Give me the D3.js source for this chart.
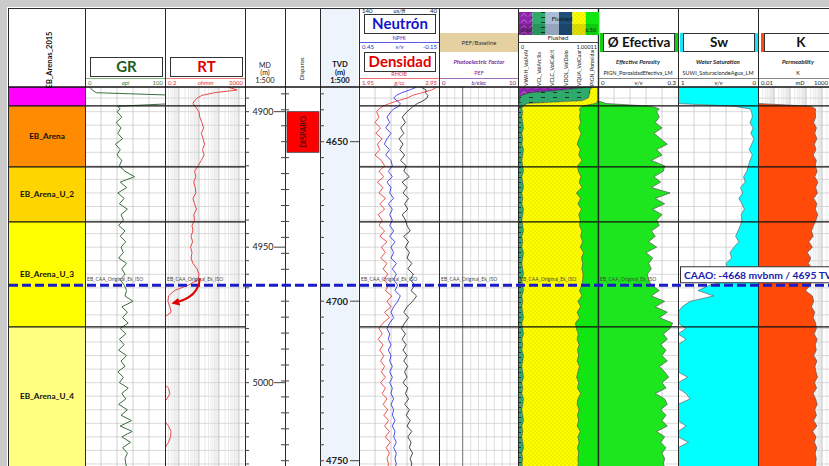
<!DOCTYPE html>
<html><head><meta charset="utf-8">
<script src="https://cdn.jsdelivr.net/npm/d3@7"></script>
<style>
html,body{margin:0;padding:0;background:#fff;}
svg{display:block;font-family:Lato,"Open Sans",sans-serif;}
</style></head><body>
<svg id="chart" width="829" height="466"></svg>
<script>
// ---- log samples (measured depth, m) ----
const depthMD = [4891,4892,4893,4894,4895,4896,4897,4898,4899,4900,
 4902,4904,4906,4908,4910,4912,4914,4916,4918,4920,
 4922,4924,4926,4928,4930,4932,4934,4936,4938,4940,
 4942,4944,4946,4948,4950,4952,4954,4956,4958,4960,
 4962,4964,4966,4968,4970,4972,4974,4976,4978,4980,
 4982,4984,4986,4988,4990,4992,4994,4996,4998,5000,
 5002,5004,5006,5008,5010,5012,5014,5016,5018,5020,
 5022,5024,5026,5028,5030,5031];
const gr = [6,9,14,118,125,122,112,41,44,40,
 46,39,45,41,47,38,44,40,46,43,
 50,62,44,52,41,49,43,53,45,48,
 42,50,44,51,45,48,42,52,46,50,
 44,49,52,50,60,46,53,47,54,44,
 51,43,49,42,52,45,50,41,48,43,
 54,46,51,42,53,45,58,44,59,46,
 57,47,53,50,51,52];
const rt = [300,800,60,14,8,6,5,6.5,8,10,
 11,14,17,13,16,19,15,18,13,9,
 6,7,5.5,6.5,7,5,6,7.5,5.5,6,
 4.5,5,4,4.8,3.8,4.5,4,5,8,10,
 9,3,0.6,0.3,0.28,0.35,0.4,0.18,0.15,0.12,
 0.15,0.12,0.15,0.13,0.15,0.12,0.2,0.15,0.12,0.15,
 0.3,0.35,0.25,0.15,0.12,0.15,0.18,0.3,0.4,0.38,
 0.3,0.2,0.15,0.12,0.15,0.14];
const rhob = [2.92,2.86,2.74,2.62,2.55,2.43,2.33,2.25,2.2,2.17,
 2.2,2.15,2.22,2.16,2.24,2.18,2.21,2.15,2.23,2.27,
 2.2,2.26,2.18,2.25,2.2,2.28,2.21,2.27,2.19,2.24,
 2.2,2.27,2.21,2.3,2.23,2.28,2.22,2.3,2.25,2.31,
 2.26,2.32,2.28,2.36,2.3,2.35,2.27,2.33,2.25,2.2,
 2.24,2.19,2.25,2.21,2.26,2.22,2.27,2.23,2.28,2.22,
 2.28,2.24,2.3,2.25,2.31,2.26,2.32,2.27,2.33,2.28,
 2.34,2.29,2.33,2.3,2.32,2.31];
const nphi = [0.02,0.07,0.13,0.17,0.19,0.165,0.14,0.15,0.19,0.21,
 0.24,0.22,0.25,0.21,0.24,0.26,0.22,0.25,0.21,0.2,
 0.23,0.2,0.24,0.21,0.22,0.19,0.23,0.2,0.22,0.2,
 0.22,0.19,0.22,0.18,0.21,0.19,0.21,0.17,0.2,0.17,
 0.19,0.16,0.18,0.14,0.16,0.19,0.21,0.19,0.22,0.24,
 0.22,0.23,0.21,0.23,0.21,0.22,0.2,0.22,0.2,0.22,
 0.2,0.21,0.19,0.21,0.19,0.2,0.18,0.2,0.18,0.19,
 0.17,0.19,0.17,0.18,0.17,0.18];
const dt = [62,56,57,54,55,60,67,72,76,80,
 86,82,88,84,90,85,89,83,88,81,
 84,77,86,80,85,78,83,79,86,82,
 80,76,84,78,82,77,80,74,79,72,
 76,70,75,68,73,80,84,78,83,87,
 82,86,81,85,80,84,79,83,80,85,
 79,82,78,83,77,81,76,80,74,79,
 75,77,73,76,74,75];
const vwah = [0.85,0.55,0.15,0.04,0.02,0.02,0.01,0,0,0,
 0,0,0,0,0,0,0,0,0,0,
 0,0,0,0,0,0,0,0,0,0,
 0,0,0,0,0,0,0,0,0,0,
 0,0,0,0,0,0,0,0,0,0,
 0,0,0,0,0,0,0,0,0,0,
 0,0,0,0,0,0,0,0,0,0,
 0,0,0,0,0,0];
const vcl = [0.08,0.35,0.75,0.85,0.86,0.78,0.11,0.06,0.05,0.06,
 0.05,0.06,0.07,0.05,0.06,0.05,0.07,0.06,0.05,0.06,
 0.07,0.05,0.06,0.07,0.05,0.06,0.05,0.07,0.06,0.05,
 0.06,0.07,0.05,0.06,0.05,0.07,0.06,0.05,0.06,0.07,
 0.05,0.06,0.07,0.05,0.06,0.05,0.06,0.07,0.05,0.06,
 0.07,0.05,0.06,0.05,0.07,0.06,0.05,0.06,0.07,0.05,
 0.06,0.05,0.07,0.06,0.05,0.06,0.07,0.05,0.06,0.05,
 0.06,0.07,0.05,0.06,0.05,0.06];
const phie = [0,0,0,0,0,0,0.03,0.2,0.23,0.22,
 0.23,0.215,0.24,0.21,0.235,0.26,0.22,0.24,0.2,0.25,
 0.245,0.21,0.235,0.2,0.27,0.215,0.25,0.205,0.24,0.22,
 0.23,0.2,0.215,0.19,0.22,0.18,0.205,0.19,0.2,0.185,
 0.19,0.2,0.23,0.2,0.25,0.215,0.26,0.23,0.28,0.27,
 0.245,0.26,0.235,0.255,0.24,0.26,0.23,0.25,0.265,0.24,
 0.255,0.215,0.25,0.26,0.235,0.255,0.24,0.26,0.22,0.25,
 0.235,0.255,0.24,0.25,0.245,0.25];
const sw = [1,1,1,1,1,1,1,0.3,0.1,0.08,
 0.07,0.1,0.06,0.09,0.05,0.08,0.11,0.07,0.1,0.12,
 0.14,0.18,0.16,0.22,0.19,0.24,0.2,0.17,0.21,0.2,
 0.22,0.25,0.28,0.24,0.3,0.35,0.33,0.4,0.38,0.3,
 0.32,0.6,0.75,0.55,0.85,0.95,1,1,1,0.9,
 1,0.9,1,1,1,1,1,1,0.88,1,
 1,0.9,0.85,1,1,1,1,0.9,1,1,
 0.87,1,1,1,1,1];
const perm = [0.01,0.01,0.01,0.01,0.01,0.01,0.01,20,40,38,
 40,30,45,35,48,33,42,28,44,38,
 50,35,55,40,52,30,48,38,54,42,
 30,22,28,15,25,12,20,14,24,18,
 22,20,9,25,30,22,35,28,40,45,
 32,50,38,44,30,48,36,42,52,34,
 46,28,40,50,35,45,30,48,26,42,
 33,47,37,44,40,42];

// ---- zones, perforations, contact ----
const zoneNames = ["", "EB_Arena", "EB_Arena_U_2", "EB_Arena_U_3", "EB_Arena_U_4"];
const zoneTops = [4890.9, 4897.9, 4920.4, 4940.7, 4979.45];
const zoneBase = 5031;
const zoneColors = ["#FF00FF", "#FF8C00", "#FFD500", "#FFFF00", "#FFFF80"];
const perfTops = [4900], perfBases = [4915], perfLabels = ["DISPARO"];
const mdMajor = [4900, 4950, 5000];
const tvdMajor = [4650, 4700, 4750];
const pefBaseline = 3;
const caaoTVD = 4695;
const caaoText = "CAAO: -4668 mvbnm / 4695 TVD";
const horizonName = "EB_CAA_Original_Ek_ISO";

const series = [gr, rt, rhob, nphi, dt, vwah, vcl, phie, sw, perm];
series.forEach((a, k) => { if (a.length !== depthMD.length) throw new Error("length " + k + ": " + a.length); });
const rows = depthMD.map((md, i) => ({md, gr: gr[i], rt: rt[i], rhob: rhob[i], nphi: nphi[i], dt: dt[i],
  vwah: vwah[i], vcl: vcl[i], phie: phie[i], sw: sw[i], k: perm[i]}));

// ---- layout ----
const svg = d3.select("#chart");
const dataY0 = 87, dataY1 = 466, headY0 = 8;
const T = {zone:[8,85], gr:[85,165], rt:[165,245], md:[245,285], perf:[285,320], tvd:[320,359],
  nd:[359,439], pef:[439,518], lith:[518,598], phi:[598,678], sw:[678,758], k:[758,838]};

const yMD = d3.scaleLinear().domain([4890.9, 5030.75]).range([dataY0, dataY1]);
const yTVD = d3.scaleLinear().domain([4650, 4750]).range([141.7, 460.7]);
const grX = d3.scaleLinear().domain([0, 100]).range(T.gr);
const rtX = d3.scaleLog().domain([0.2, 2000]).range(T.rt);
const rhoX = d3.scaleLinear().domain([1.95, 2.95]).range(T.nd);
const nX = d3.scaleLinear().domain([0.45, -0.15]).range(T.nd);
const dtX = d3.scaleLinear().domain([140, 40]).range(T.nd);
const pefX = d3.scaleLinear().domain([0, 10]).range(T.pef);
const lithX = d3.scaleLinear().domain([0, 1.00011]).range(T.lith);
const phiX = d3.scaleLinear().domain([0, 0.3]).range(T.phi);
const swX = d3.scaleLinear().domain([1, 0]).range(T.sw);
const kX = d3.scaleLog().domain([0.01, 1000]).range(T.k);

const defs = svg.append("defs");
Object.entries(T).forEach(([key, [a, b]]) => {
  defs.append("clipPath").attr("id", "clip-" + key)
    .append("rect").attr("x", a).attr("y", dataY0).attr("width", b - a).attr("height", dataY1 - dataY0);
});
// fill patterns
const pSand = defs.append("pattern").attr("id", "pSand").attr("width", 4).attr("height", 4).attr("patternUnits", "userSpaceOnUse");
pSand.append("rect").attr("width", 4).attr("height", 4).attr("fill", "#FFFF00");
pSand.append("circle").attr("cx", 1).attr("cy", 1).attr("r", 0.45).attr("fill", "#8a8a00");
pSand.append("circle").attr("cx", 3).attr("cy", 3).attr("r", 0.45).attr("fill", "#8a8a00");
const pShale = defs.append("pattern").attr("id", "pShale").attr("width", 12).attr("height", 5).attr("patternUnits", "userSpaceOnUse");
pShale.append("rect").attr("width", 12).attr("height", 5).attr("fill", "#2EAA6A");
pShale.append("line").attr("x1", 1).attr("x2", 5).attr("y1", 2.5).attr("y2", 2.5).attr("stroke", "#123").attr("stroke-width", 0.9);
const pAnh = defs.append("pattern").attr("id", "pAnh").attr("width", 8).attr("height", 6).attr("patternUnits", "userSpaceOnUse");
pAnh.append("rect").attr("width", 8).attr("height", 6).attr("fill", "#8E24AA");
pAnh.append("path").attr("d", "M1,4.5 L4,1.5 L7,4.5").attr("fill", "none").attr("stroke", "#c9a0dc").attr("stroke-width", 0.7);
defs.append("marker").attr("id", "arrowHead").attr("viewBox", "0 0 10 10").attr("refX", 6).attr("refY", 5)
  .attr("markerWidth", 4).attr("markerHeight", 4).attr("orient", "auto")
  .append("path").attr("d", "M0,0 L10,5 L0,10 z").attr("fill", "#E00000");

// ---- frame ----
svg.append("rect").attr("width", 829).attr("height", 466).attr("fill", "#fff");
svg.append("rect").attr("x", 0).attr("y", 0).attr("width", 829).attr("height", 7).attr("fill", "#cbcbcb");
svg.append("rect").attr("x", 0).attr("y", 0).attr("width", 7).attr("height", 466).attr("fill", "#cbcbcb");
svg.append("rect").attr("x", 321).attr("y", headY0).attr("width", 37).attr("height", dataY1 - headY0).attr("fill", "#EEF4FB");

// ---- zones ----
const gZone = svg.append("g").attr("clip-path", "url(#clip-zone)");
zoneTops.forEach((t, i) => {
  const y0 = yMD(t), y1 = yMD(i < zoneTops.length - 1 ? zoneTops[i + 1] : zoneBase);
  gZone.append("rect").attr("x", T.zone[0]).attr("y", y0).attr("width", T.zone[1] - T.zone[0]).attr("height", y1 - y0).attr("fill", zoneColors[i]);
  if (zoneNames[i]) {
    svg.append("text").attr("x", (T.zone[0] + T.zone[1]) / 2 + 0.5).attr("y", (y0 + Math.min(y1, dataY1)) / 2 + 3)
      .attr("text-anchor", "middle").attr("font-size", 8.2).attr("font-weight", 700).attr("fill", "#111").text(zoneNames[i]);
  }
});

// ---- grids ----
const gridMD = d3.range(4895, 5031, 5);
const gGrid = svg.append("g");
function hGrid(key) {
  const [a, b] = T[key];
  gGrid.append("g").selectAll("line").data(gridMD).join("line")
    .attr("x1", a).attr("x2", b).attr("y1", d => yMD(d)).attr("y2", d => yMD(d))
    .attr("stroke", "#cfcfcf").attr("stroke-width", 0.8);
}
function vGrid(xs, color, w) {
  gGrid.append("g").selectAll("line").data(xs).join("line")
    .attr("x1", d => d).attr("x2", d => d).attr("y1", dataY0).attr("y2", dataY1)
    .attr("stroke", color).attr("stroke-width", w || 0.8);
}
function logVals(lo, hi) {
  const out = [];
  for (let e = -3; e <= 4; e++) for (let m = 1; m <= 9; m++) {
    const v = m * Math.pow(10, e);
    if (v > lo * 1.0001 && v < hi * 0.9999) out.push({v, major: m === 1});
  }
  return out;
}
["gr", "rt", "nd", "pef", "lith", "phi", "sw", "k"].forEach(hGrid);
vGrid([20, 40, 60, 80].map(grX), "#c4c4c4");
const rtLog = logVals(0.2, 2000);
vGrid(rtLog.filter(d => !d.major).map(d => rtX(d.v)), "#dadada", 0.6);
vGrid(rtLog.filter(d => d.major).map(d => rtX(d.v)), "#b8b8b8", 0.8);
vGrid([2.15, 2.35, 2.55, 2.75].map(rhoX), "#c4c4c4");
vGrid(d3.range(1, 10).map(pefX), "#d2d2d2", 0.7);
vGrid([pefX(pefBaseline)], "#7a7a7a", 1);
vGrid([0.06, 0.12, 0.18, 0.24].map(phiX), "#c8c8c8");
vGrid([0.8, 0.6, 0.4, 0.2].map(swX), "#c8c8c8");
const kLog = logVals(0.01, 1000);
vGrid(kLog.filter(d => !d.major).map(d => kX(d.v)), "#dadada", 0.6);
vGrid(kLog.filter(d => d.major).map(d => kX(d.v)), "#b8b8b8", 0.8);

// ---- lithology stack ----
const gLith = svg.append("g").attr("clip-path", "url(#clip-lith)");
const yOf = d => yMD(d.md);
const areaV = (f0, f1, sx) => d3.area().y(yOf).x0(d => sx(f0(d))).x1(d => sx(f1(d)));
gLith.append("path").datum(rows).attr("fill", "url(#pAnh)").attr("stroke", "#333").attr("stroke-width", 0.5)
  .attr("d", areaV(d => 0, d => d.vwah, lithX));
gLith.append("path").datum(rows).attr("fill", "url(#pShale)").attr("stroke", "#233").attr("stroke-width", 0.5)
  .attr("d", areaV(d => d.vwah, d => d.vwah + d.vcl, lithX));
gLith.append("path").datum(rows).attr("fill", "url(#pSand)").attr("stroke", "#444").attr("stroke-width", 0.4)
  .attr("d", areaV(d => d.vwah + d.vcl, d => 1 - d.phie, lithX));
gLith.append("path").datum(rows).attr("fill", "#12E612").attr("stroke", "#444").attr("stroke-width", 0.5)
  .attr("d", areaV(d => 1 - d.phie, d => 1, lithX));

// ---- porosity, saturation, permeability fills ----
const gPhi = svg.append("g").attr("clip-path", "url(#clip-phi)");
gPhi.append("path").datum(rows).attr("fill", "#1EE61E").attr("d", areaV(d => 0, d => d.phie, phiX));
gPhi.append("path").datum(rows).attr("fill", "none").attr("stroke", "#555").attr("stroke-width", 0.7)
  .attr("d", d3.line().y(yOf).x(d => phiX(d.phie)));
const gSw = svg.append("g").attr("clip-path", "url(#clip-sw)");
gSw.append("path").datum(rows).attr("fill", "#00FFFF").attr("d", areaV(d => d.sw, d => 0, swX));
gSw.append("path").datum(rows).attr("fill", "none").attr("stroke", "#666").attr("stroke-width", 0.7)
  .attr("d", d3.line().y(yOf).x(d => swX(d.sw)));
const gK = svg.append("g").attr("clip-path", "url(#clip-k)");
gK.append("path").datum(rows).attr("fill", "#FF4A0A").attr("d", areaV(d => 0.01, d => d.k, kX));
gK.append("path").datum(rows).attr("fill", "none").attr("stroke", "#555").attr("stroke-width", 0.7)
  .attr("d", d3.line().y(yOf).x(d => kX(d.k)));

// ---- curves ----
function curve(key, field, sx, color, w) {
  svg.append("g").attr("clip-path", "url(#clip-" + key + ")").append("path").datum(rows)
    .attr("fill", "none").attr("stroke", color).attr("stroke-width", w).attr("stroke-linejoin", "round")
    .attr("d", d3.line().y(yOf).x(d => sx(d[field])));
}
curve("gr", "gr", grX, "#3E6E3E", 1);
curve("rt", "rt", rtX, "#E84848", 1);
curve("nd", "rhob", rhoX, "#EE4040", 0.9);
curve("nd", "nphi", nX, "#3A3AE8", 0.9);
curve("nd", "dt", dtX, "#333", 0.9);

// ---- zone boundaries ----
zoneTops.slice(1).forEach(t => {
  [[T.zone[0], T.rt[1]], [T.nd[0], 829]].forEach(([a, b]) => {
    svg.append("line").attr("x1", a).attr("x2", b).attr("y1", yMD(t)).attr("y2", yMD(t))
      .attr("stroke", "#111").attr("stroke-width", 1.3);
  });
});

// ---- track borders ----
[8, 85, 165, 245, 285, 320, 359, 439, 518, 598, 678, 758].forEach(x => {
  svg.append("line").attr("x1", x + 0.5).attr("x2", x + 0.5).attr("y1", headY0).attr("y2", dataY1)
    .attr("stroke", "#2a2a2a").attr("stroke-width", x === 598 ? 1.4 : 1);
});
svg.append("line").attr("x1", 8).attr("x2", 829).attr("y1", headY0 + 0.5).attr("y2", headY0 + 0.5).attr("stroke", "#2a2a2a");
svg.append("line").attr("x1", 8).attr("x2", 829).attr("y1", dataY0).attr("y2", dataY0).attr("stroke", "#111").attr("stroke-width", 1.5);

// ---- depth axes ----
const gAx = svg.append("g");
gAx.selectAll(".mdm").data(gridMD).join("line").attr("x1", 245).attr("x2", 249)
  .attr("y1", d => yMD(d)).attr("y2", d => yMD(d)).attr("stroke", "#444");
gAx.selectAll(".mdM").data(mdMajor).join("line").attr("x1", 274).attr("x2", 285)
  .attr("y1", d => yMD(d)).attr("y2", d => yMD(d)).attr("stroke", "#444");
gAx.selectAll(".mdt").data(mdMajor).join("text").attr("x", 263).attr("y", d => yMD(d) + 3.2)
  .attr("text-anchor", "middle").attr("font-size", 9).attr("fill", "#222").text(d => d);
const tvdMinor = d3.range(4635, 4752, 5).filter(v => yTVD(v) > dataY0 && yTVD(v) < dataY1);
[[281, 289], [320, 324]].forEach(([a, b]) => {
  gAx.append("g").selectAll("line").data(tvdMinor).join("line").attr("x1", a).attr("x2", b)
    .attr("y1", d => yTVD(d)).attr("y2", d => yTVD(d)).attr("stroke", "#444");
});
gAx.selectAll(".tvM").data(tvdMajor).join("line").attr("x1", 350).attr("x2", 359)
  .attr("y1", d => yTVD(d)).attr("y2", d => yTVD(d)).attr("stroke", "#444");
gAx.selectAll(".tvt").data(tvdMajor).join("text").attr("x", 337).attr("y", d => yTVD(d) + 3.4)
  .attr("text-anchor", "middle").attr("font-size", 9.5).attr("font-weight", 700).attr("fill", "#222").text(d => d);

// ---- perforations ----
perfTops.forEach((t, i) => {
  const y0 = yMD(t), y1 = yMD(perfBases[i]);
  svg.append("rect").attr("x", 287).attr("y", y0).attr("width", 32).attr("height", y1 - y0)
    .attr("fill", "#FF0000").attr("stroke", "#444").attr("stroke-width", 0.8);
  svg.append("text").attr("transform", `translate(${305.5},${(y0 + y1) / 2}) rotate(-90)`)
    .attr("text-anchor", "middle").attr("font-size", 7.5).attr("fill", "#111").text(perfLabels[i]);
});

// ---- oil-water contact ----
const caaoY = yTVD(caaoTVD);
[T.gr, T.rt, T.nd, T.pef, T.lith, T.phi].forEach(([a]) => {
  svg.append("text").attr("x", a + 2).attr("y", caaoY - 4.5).attr("font-size", 5).attr("fill", "#444").text(horizonName);
});
svg.append("line").attr("x1", 9).attr("x2", 829).attr("y1", caaoY).attr("y2", caaoY)
  .attr("stroke", "#1B1BC8").attr("stroke-width", 3).attr("stroke-dasharray", "9,4");
svg.append("rect").attr("x", 680.5).attr("y", caaoY - 18.5).attr("width", 160).attr("height", 16)
  .attr("fill", "#fff").attr("stroke", "#333").attr("stroke-width", 1);
svg.append("text").attr("x", 684).attr("y", caaoY - 6.5).attr("font-size", 10.3).attr("font-weight", 700)
  .attr("fill", "#1A1AB0").text(caaoText);
// annotation arrow towards the resistivity drop
{
  const sx = rtX(11), sy = yMD(4961.5), cx = rtX(9.5), cy = yMD(4968.5), ex = rtX(0.6), ey = yMD(4970.5);
  svg.append("path").attr("d", `M${sx},${sy} Q${cx},${cy} ${ex},${ey}`).attr("fill", "none")
    .attr("stroke", "#E00000").attr("stroke-width", 2).attr("marker-end", "url(#arrowHead)");
}

// ---- headers ----
const H = svg.append("g");
function txt(x, y, s, size, color, opts) {
  opts = opts || {};
  const t = H.append("text").attr("x", x).attr("y", y).attr("font-size", size).attr("fill", color || "#222")
    .attr("text-anchor", opts.anchor || "middle").text(s);
  if (opts.bold) t.attr("font-weight", 700);
  if (opts.italic) t.attr("font-style", "italic");
  return t;
}
function titleBox(a, b, y0, y1, label, color, size, bar) {
  if (bar) {
    H.append("rect").attr("x", a - 3).attr("y", y0).attr("width", b - a + 6).attr("height", y1 - y0).attr("fill", bar);
  }
  H.append("rect").attr("x", a + 0.5).attr("y", y0 + 0.5).attr("width", b - a - 1).attr("height", y1 - y0 - 1)
    .attr("fill", "#fff").attr("stroke", "#333").attr("stroke-width", 1);
  txt((a + b) / 2, (y0 + y1) / 2 + size * 0.36, label, size, color, {bold: true});
}
function scaleRow(a, b, y, l, u, r, color) {
  txt(a + 2, y, l, 6, color, {anchor: "start"});
  txt((a + b) / 2, y, u, 6, color, {italic: true});
  txt(b - 2, y, r, 6, color, {anchor: "end"});
}
function rule(a, b, y, color) {
  H.append("line").attr("x1", a).attr("x2", b).attr("y1", y).attr("y2", y).attr("stroke", color).attr("stroke-width", 1);
}
// zone column
H.append("text").attr("transform", "translate(52,60) rotate(-90)").attr("text-anchor", "middle")
  .attr("font-size", 7.5).attr("font-weight", 700).attr("fill", "#111").text("EB_Arenas_2015");
// GR / RT
titleBox(90, 163, 57, 77, "GR", "#1E5A1E", 15);
rule(86, 165, 78.5, "#7DB87D");
scaleRow(86, 165, 84.5, "0", "api", "100", "#3D7F3D");
titleBox(170, 243, 57, 77, "RT", "#E00000", 15);
rule(166, 245, 78.5, "#F08080");
scaleRow(166, 245, 84.5, "0.2", "ohmm", "2000", "#E03030");
// MD / perforations / TVD
txt(265, 67.5, "MD", 7, "#222"); txt(265, 74.5, "(m)", 7, "#222"); txt(265, 82.5, "1:500", 7.5, "#222");
H.append("text").attr("transform", "translate(304,69) rotate(-90)").attr("text-anchor", "middle")
  .attr("font-size", 6).attr("fill", "#222").text("Disparos");
txt(340, 66.5, "TVD", 7.5, "#111", {bold: true}); txt(340, 74.5, "(m)", 7.5, "#111", {bold: true});
txt(340, 83, "1:500", 7.5, "#111", {bold: true});
// neutron / density / sonic
scaleRow(360, 439, 13, "140", "us/ft", "40", "#222");
titleBox(364, 436, 14, 34, "Neutrón", "#1414C8", 15);
txt(399, 39.5, "NPHI", 5.5, "#3333CC");
rule(360, 439, 42.5, "#5A5AE6");
scaleRow(360, 439, 48.5, "0.45", "v/v", "-0.15", "#2828C0");
titleBox(364, 436, 52, 72, "Densidad", "#E00000", 15);
txt(399, 76, "RHOB", 5.5, "#E03030");
rule(360, 439, 78.5, "#F07070");
scaleRow(360, 439, 84.5, "1.95", "g/cc", "2.95", "#E03030");
// PEF
H.append("rect").attr("x", 440).attr("y", 33).attr("width", 78).attr("height", 19).attr("fill", "#E5D0A2");
txt(479, 45, "PEF/Baseline", 6, "#333");
txt(479, 64, "Photoelectric Factor", 6, "#7A2A8E", {bold: true, italic: true});
txt(479, 75, "PEF", 5.5, "#7A2A8E");
rule(440, 518, 78.5, "#A070B8");
scaleRow(440, 518, 84.5, "0", "b/elec", "10", "#6A2A7E");
// lithology legend
const lithLegend = [
  {fill: "url(#pAnh)", label: "VWAH_VolArAh"},
  {fill: "url(#pShale)", label: "VCL_VolArcilla"},
  {fill: "#A9BED6", label: "VCLC_VolCalcita"},
  {fill: "#1F4E79", label: "VDOL_VolDolo"},
  {fill: "url(#pSand)", label: "VQUA_VolCuarzo"},
  {fill: "#12E612", label: "PIGN_PorosidadE"}];
const cw = 80 / 6;
lithLegend.forEach((c, i) => {
  H.append("rect").attr("x", 519 + i * cw).attr("y", 12).attr("width", cw).attr("height", 23).attr("fill", c.fill);
});
H.append("rect").attr("x", 519).attr("y", 24).attr("width", 79).attr("height", 11).attr("fill", "#000").attr("opacity", 0.12);
txt(562, 20.5, "Flushed", 6, "#111");
txt(521, 31.5, "0.50", 5.5, "#222", {anchor: "start"});
txt(596, 31.5, "6.50", 5.5, "#222", {anchor: "end"});
txt(558, 40, "Flushed", 6, "#222");
rule(518, 598, 42.5, "#444");
txt(521, 48.5, "0", 5.5, "#222", {anchor: "start"});
txt(597, 48.5, "1.00011", 5.5, "#222", {anchor: "end"});
defs.append("clipPath").attr("id", "clip-lithhead").append("rect").attr("x", 518).attr("y", 50).attr("width", 80).attr("height", 37);
const lh = H.append("g").attr("clip-path", "url(#clip-lithhead)");
lithLegend.forEach((c, i) => {
  lh.append("text").attr("transform", `translate(${519 + i * cw + cw / 2 + 2},86) rotate(-90)`)
    .attr("font-size", 5.3).attr("fill", "#222").text(c.label);
});
// porosity / saturation / permeability
titleBox(603, 675, 33, 52, "Ø Efectiva", "#111", 13.5, "#10D010");
txt(638, 64, "Effective Porosity", 6, "#222", {bold: true, italic: true});
txt(638, 75, "PIGN_PorosidadEfectiva_LM", 5.5, "#222");
rule(599, 678, 78.5, "#888");
scaleRow(599, 678, 84.5, "0", "v/v", "0.3", "#222");
titleBox(683, 755, 33, 52, "Sw", "#111", 13.5, "#19E3F5");
txt(718, 64, "Water Saturation", 6, "#222", {bold: true, italic: true});
txt(718, 75, "SUWI_SaturaciondeAgua_LM", 5.5, "#222");
rule(679, 758, 78.5, "#888");
scaleRow(679, 758, 84.5, "1", "v/v", "0", "#222");
titleBox(764, 838, 33, 52, "K", "#111", 13.5, "#FF4A0A");
txt(798, 64, "Permeability", 6, "#222", {bold: true, italic: true});
txt(798, 75, "K", 5.5, "#222");
rule(759, 838, 78.5, "#888");
txt(761, 84.5, "0.01", 6, "#222", {anchor: "start"});
txt(800, 84.5, "mD", 6, "#222", {italic: true});
txt(828, 84.5, "1000", 6, "#222", {anchor: "end"});
</script></body></html>
